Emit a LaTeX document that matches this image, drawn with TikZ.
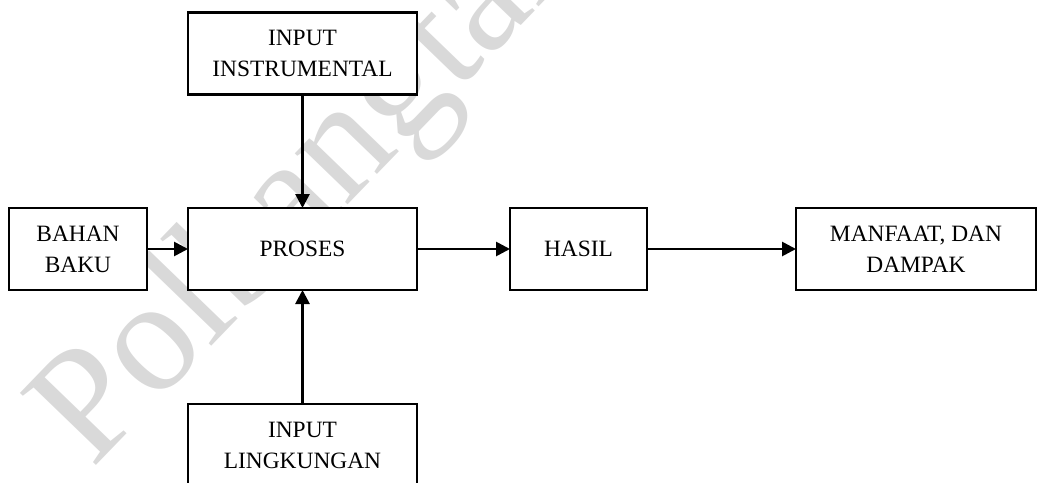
\documentclass[tikz,border=0pt]{standalone}
\usepackage{fontspec}
\setmainfont{Liberation Serif}
\usetikzlibrary{arrows.meta}
\definecolor{wmgray}{RGB}{217,217,217}
\tikzset{
  box/.style={draw=black, line width=1.15pt, fill=white, inner sep=0pt, outer sep=0pt,
    align=center, minimum height=41pt, font=\fontsize{11.7}{15.5}\selectfont},
  arr/.style={line width=1.35pt, -{Triangle[length=7pt,width=7pt]}},
  mark text/.style={text=wmgray, font=\fontsize{80}{80}\selectfont, inner sep=0pt, anchor=base west}
}
\begin{document}
\begin{tikzpicture}[x=0.5pt, y=-0.5pt]
  \useasboundingbox (0,0) rectangle (1038,482);
  % faint watermark behind the diagram
  \node[mark text, rotate=46] (wm) at (92,470) {Polbangtan};
  % boxes
  \node[box, minimum width=114.5pt] (instr) at (302.5,53.5) {INPUT\\INSTRUMENTAL};
  \node[box, minimum width=69pt] (bahan) at (78,249) {BAHAN\\BAKU};
  \node[box, minimum width=114.5pt] (proses) at (302.5,249) {PROSES};
  \node[box, minimum width=68.5pt] (hasil) at (578.5,249) {HASIL};
  \node[box, minimum width=120pt] (manfaat) at (916,249) {MANFAAT, DAN\\DAMPAK};
  \node[box, minimum width=114.5pt] (lingk) at (302.5,445) {INPUT\\LINGKUNGAN};
  % connectors
  \draw[arr] (instr) -- (proses);
  \draw[arr] (lingk) -- (proses);
  \draw[arr] (bahan) -- (proses);
  \draw[arr] (proses) -- (hasil);
  \draw[arr] (hasil) -- (manfaat);
\end{tikzpicture}
\end{document}
